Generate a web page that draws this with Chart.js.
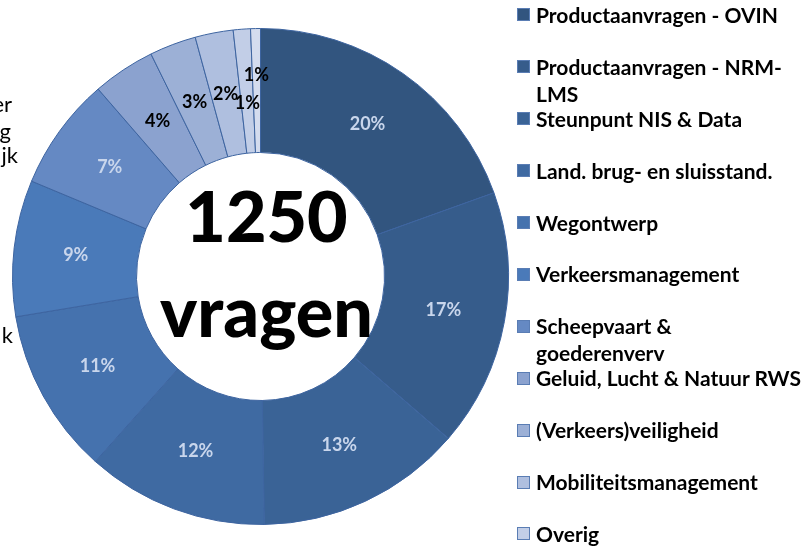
<!DOCTYPE html>
<html><head><meta charset="utf-8">
<script src="https://cdn.jsdelivr.net/npm/chart.js@4.4.0/dist/chart.umd.min.js"></script>
<style>
html,body{margin:0;padding:0;background:#fff;overflow:hidden}
#wrap{position:relative;width:801px;height:546px;overflow:hidden}
#c{position:absolute;left:0;top:0}
.li{position:absolute;left:517px;width:300px;font:bold 21px Lato, "Open Sans", sans-serif;line-height:27px;color:#000;white-space:normal}
.li .sw{position:absolute;left:0;top:7.5px;width:11px;height:11px;border:1px solid #5a7db4}
.li .tx{position:absolute;left:19px;top:0;width:268px}
.side{position:absolute;font:22px Lato, "Open Sans", sans-serif;line-height:22px;color:#000;text-align:right;white-space:nowrap}
</style></head>
<body>
<div id="wrap">
<canvas id="c" width="801" height="546"></canvas>
<div id="legend"></div>
<div id="sideText"></div>
</div>
<script>
// ---- data ----
const categories = [
  "Productaanvragen - OVIN",
  "Productaanvragen - NRM-LMS",
  "Steunpunt NIS & Data",
  "Land. brug- en sluisstand.",
  "Wegontwerp",
  "Verkeersmanagement",
  "Scheepvaart & goederenverv",
  "Geluid, Lucht & Natuur RWS",
  "(Verkeers)veiligheid",
  "Mobiliteitsmanagement",
  "Overig",
  ""
];
const questionCounts = [244, 210, 168, 148, 135, 111, 92, 51, 38, 31, 14, 8];
const centerLabel = "vragen";
const sideFragments = ["er", "g", "jk", "k"];

// ---- styles ----
const sliceColors = ["#32557f","#365c8b","#3a6396","#3f6aa2","#4572ae","#4a7ab9","#6589c3",
                     "#8ba2cf","#9cb0d6","#afbfdf","#c2cee7","#d4dcee"];

function isDark(hex){
  const n = parseInt(hex.slice(1),16);
  const r=(n>>16)&255,g=(n>>8)&255,b=n&255;
  return (0.299*r+0.587*g+0.114*b) < 150;
}

const pctLabels = {
  id:'pctLabels',
  afterDatasetsDraw(chart, args, opts){
    const ctx = chart.ctx;
    const ds = chart.data.datasets[0];
    const total = ds.data.reduce((a,b)=>a+b,0);
    const meta = chart.getDatasetMeta(0);
    ctx.save();
    ctx.font = opts.font;
    ctx.textAlign = 'center';
    ctx.textBaseline = 'middle';
    meta.data.forEach((arc,i)=>{
      const p = arc.getProps(['x','y','startAngle','endAngle','innerRadius','outerRadius'], true);
      const mid = (p.startAngle+p.endAngle)/2;
      const r = (p.innerRadius+p.outerRadius)/2 + ((opts.radialShift||{})[i]||0);
      const t = Math.round(ds.data[i]/total*100)+'%';
      ctx.fillStyle = isDark(ds.backgroundColor[i]) ? opts.lightColor : opts.darkColor;
      ctx.fillText(t, p.x+Math.cos(mid)*r, p.y+Math.sin(mid)*r);
    });
    ctx.restore();
  }
};

const centerText = {
  id:'centerText',
  afterDraw(chart, args, opts){
    const ctx = chart.ctx;
    const arc = chart.getDatasetMeta(0).data[0];
    const total = chart.data.datasets[0].data.reduce((a,b)=>a+b,0);
    ctx.save();
    ctx.font = opts.font;
    ctx.fillStyle = '#000';
    ctx.textAlign = 'center';
    ctx.textBaseline = 'alphabetic';
    ctx.fillText(String(total), arc.x+opts.dx, arc.y+opts.line1);
    ctx.fillText(centerLabel, arc.x+opts.dx, arc.y+opts.line2);
    ctx.restore();
  }
};

const chart = new Chart(document.getElementById('c'), {
  type:'doughnut',
  data:{
    labels: categories,
    datasets:[{
      data: questionCounts,
      backgroundColor: sliceColors,
      borderColor: '#3d64a0',
      borderWidth: 1
    }]
  },
  options:{
    responsive:false,
    animation:false,
    cutout:'50%',
    layout:{padding:{left:12,top:28,right:292,bottom:21}},
    plugins:{
      legend:{display:false},
      tooltip:{enabled:false},
      pctLabels:{font:'bold 18px Lato, "Open Sans", sans-serif', lightColor:'#c9d6ec', darkColor:'#000', radialShift:{10:-12, 11:15}},
      centerText:{font:'900 70px Lato, "Open Sans", sans-serif', dx:6, line1:-35, line2:60}
    }
  },
  plugins:[pctLabels, centerText]
});

// HTML legend built from chart data
const leg = document.getElementById('legend');
chart.data.labels.forEach((lab,i)=>{
  const d = document.createElement('div');
  d.className='li';
  d.style.top = (15 + i*51.9 - 14.1)+'px';
  const sw = document.createElement('span');
  sw.className='sw';
  sw.style.background = chart.data.datasets[0].backgroundColor[i];
  const tx = document.createElement('span');
  tx.className='tx';
  tx.textContent = lab;
  if(lab){ d.appendChild(sw); }
  d.appendChild(tx);
  leg.appendChild(d);
});

// fragments of text cut off at the left edge
const side = document.getElementById('sideText');
const sidePos = [[12,112],[11,139],[18,163],[13,343]];
sideFragments.forEach((t,i)=>{
  const d = document.createElement('div');
  d.className='side';
  d.textContent=t;
  d.style.right = (801 - sidePos[i][0])+'px';
  d.style.top = (sidePos[i][1]-19.5)+'px';
  side.appendChild(d);
});
</script>
</body></html>
